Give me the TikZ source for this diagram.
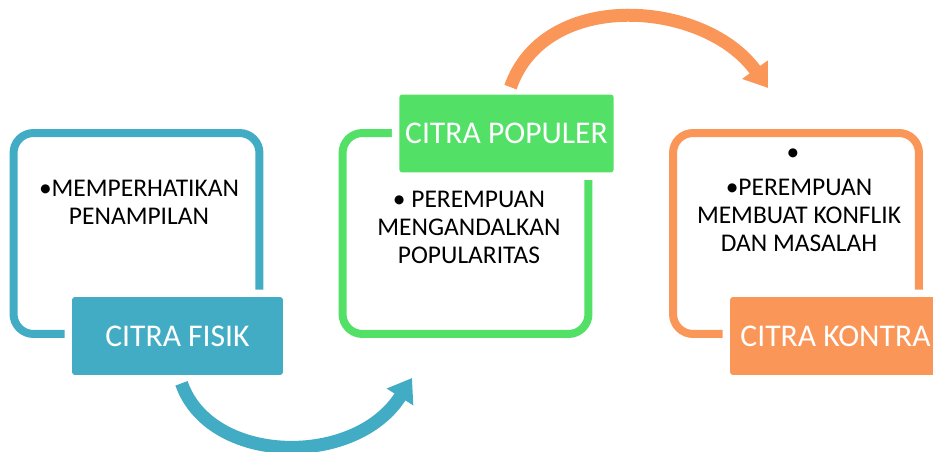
\documentclass[tikz,border=0pt]{standalone}
\usepackage{fontspec}
\setmainfont{Carlito}
\usetikzlibrary{arrows.meta}
\definecolor{fisikteal}{HTML}{42ACC4}
\definecolor{populergreen}{HTML}{53E066}
\definecolor{kontraorange}{HTML}{FA9657}

\begin{document}
\begin{tikzpicture}[x=0.02cm,y=-0.02cm,
panel/.style={draw=#1,line width=0.16cm,rounded corners=0.4cm,minimum width=4.92cm,minimum height=4.02cm},
label/.style={fill=#1,rounded corners=0.06cm,minimum width=4.22cm,minimum height=1.56cm,text=white,font=\fontsize{18}{20}\selectfont,preaction={draw=white,line width=0.3cm}},
body/.style={align=center,inner sep=0pt,anchor=north,font=\fontsize{14.5}{15.9}\selectfont},
flow/.style={draw=#1,line width=0.26cm,-{Triangle[width=0.6cm,length=0.45cm]}}]
\useasboundingbox (0,0) rectangle (933,452);
\clip (0,0) rectangle (933,452);
\node[panel=fisikteal] at (136.5,233.5) (FisikBox) {};
\node[panel=populergreen] at (465.5,233.5) (PopulerBox) {};
\node[panel=kontraorange] at (796,233.5) (KontraBox) {};
\node[label=fisikteal] at (177.5,336) (Fisik) {CITRA FISIK};
\node[label=populergreen] at (506.5,133.5) (Populer) {CITRA POPULER};
\node[label=kontraorange] at (835.5,336) (Kontra) {CITRA KONTRA};
\node[body] at (139,179.5) (FisikText) {\textbullet MEMPERHATIKAN\\PENAMPILAN};
\node[body] at (469,190.5) (PopulerText) {\textbullet{} PEREMPUAN\\MENGANDALKAN\\POPULARITAS};
\node[body,anchor=base] at (793,161) (KontraDot) {\textbullet};
\node[body] at (799,178.5) (KontraText) {\textbullet PEREMPUAN\\MEMBUAT KONFLIK\\DAN MASALAH};
%\coordinate (TealTip) at (405,388);
\coordinate (TealTip) at (412,378);
\coordinate (OrangeTip) at (768,88);
\draw[flow=fisikteal] ([shift={(4,8)}]Fisik.south) .. controls (210,465) and (355,468) .. (TealTip);
\draw[flow=kontraorange] ([shift={(4,-7)}]Populer.north) .. controls (545,-12) and (705,0) .. (OrangeTip);
\end{tikzpicture}
\end{document}
